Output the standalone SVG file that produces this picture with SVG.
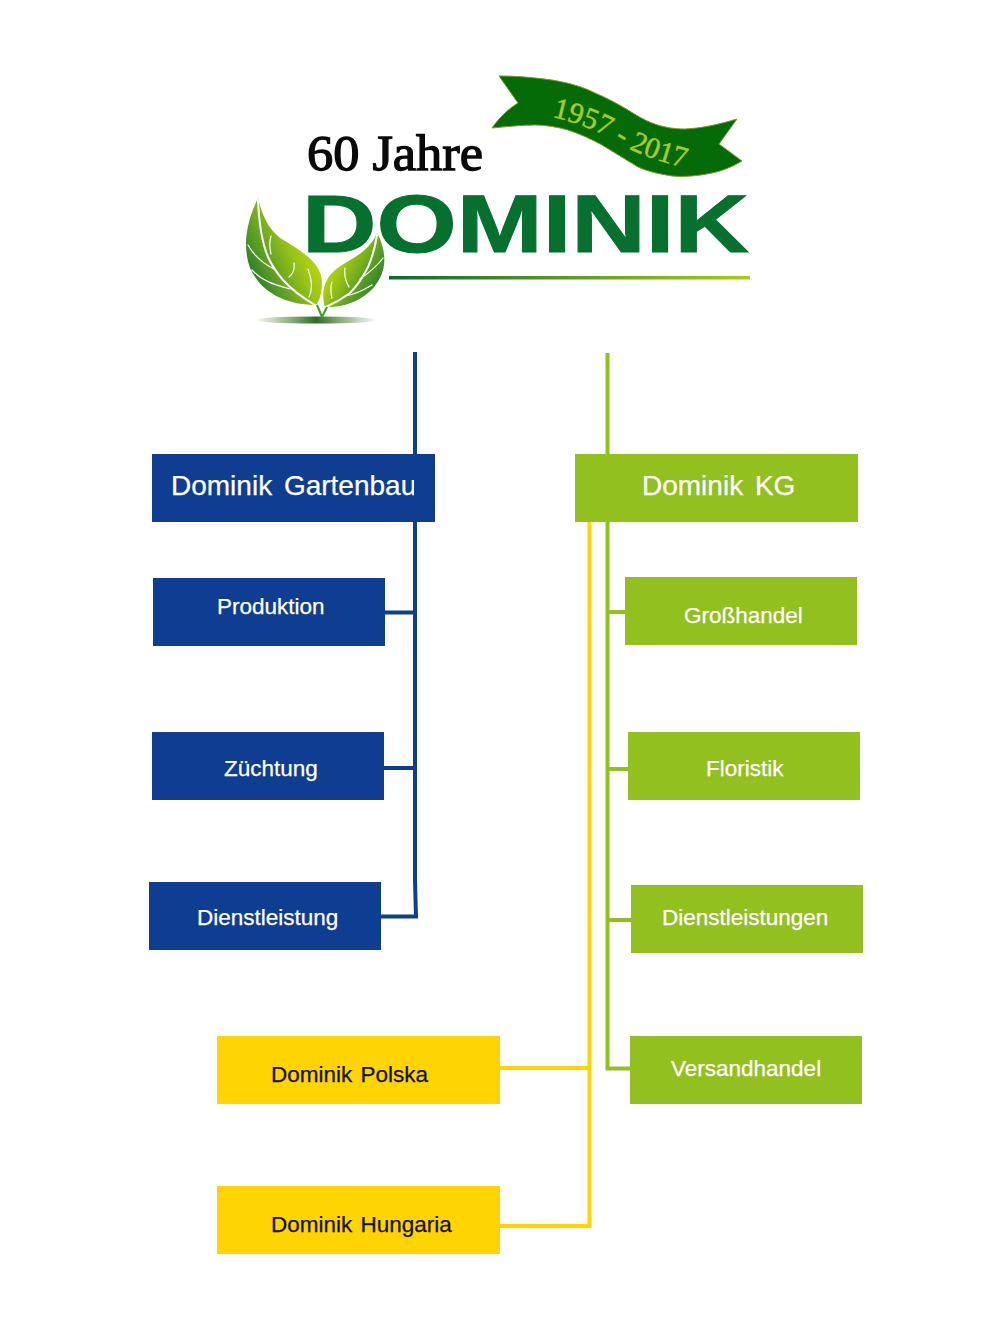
<svg xmlns="http://www.w3.org/2000/svg" width="1000" height="1333" viewBox="0 0 1000 1333">
<style>
.b{fill:#0f3d91}.g{fill:#92c01f}.y{fill:#ffd400}
.t{font-family:"Liberation Sans",Arial,sans-serif;font-size:22.500px;fill:#fff;stroke:#fff;stroke-width:.25;word-spacing:2px}
.h{font-size:28px;word-spacing:4px}
.d{fill:#111;stroke:#111}
.c{fill:none;stroke-width:4}
.v{fill:none;stroke:#fff;stroke-linecap:round}
</style>
<defs>
<linearGradient id="rule"><stop offset="0" stop-color="#0b6b2e"/><stop offset="1" stop-color="#a9cf0a"/></linearGradient>
<linearGradient id="leafL" gradientUnits="userSpaceOnUse" x1="256" y1="292" x2="318" y2="262"><stop offset="0" stop-color="#1f7a2c"/><stop offset="0.35" stop-color="#5fa024"/><stop offset="0.75" stop-color="#9cc617"/><stop offset="1" stop-color="#b8d60c"/></linearGradient>
<linearGradient id="leafR" gradientUnits="userSpaceOnUse" x1="380" y1="295" x2="328" y2="265"><stop offset="0" stop-color="#1f7a2c"/><stop offset="0.4" stop-color="#5fa024"/><stop offset="0.8" stop-color="#a4cb12"/><stop offset="1" stop-color="#b8d60c"/></linearGradient>
<linearGradient id="gnd"><stop offset="0" stop-color="#5a8a3a" stop-opacity="0"/><stop offset="0.5" stop-color="#2f6a24"/><stop offset="1" stop-color="#5a8a3a" stop-opacity="0"/></linearGradient>
<clipPath id="gclip"><rect x="152" y="454" width="262" height="68"/></clipPath>
<path id="arc" d="M552 117C575 122 600 131 620 144C640 155 660 162 698 171"/>
</defs>
<g id="logo">
<path d="M499 76C520 76 536 78 552 80C570 83 583 87 595 93C607 98 618 104 628 110C636 115 644 120 652 123C662 127 673 129 685 129C704 128 720 124 737 119L719 144L742 161C732 167 722 171 712 173C698 176 685 177 672 176C660 174 649 172 638 167C626 160 614 152 602 145C591 139 580 134 568 130C557 127 546 125 535 125C520 125 505 127 492 128C499 118 508 109 518 103Z" fill="#056b06" stroke="#7a9a2a" stroke-width="1"/>
<text font-family="Liberation Serif,serif" font-size="29.500" fill="#a5cc2a" stroke="#a5cc2a" stroke-width=".5"><textPath href="#arc">1957 - 2017</textPath></text>
<text x="307" y="170" font-family="Liberation Serif,serif" font-size="50" fill="#0a0a0a" stroke="#0a0a0a" stroke-width="1.300" textLength="176" lengthAdjust="spacingAndGlyphs">60 Jahre</text>
<text x="302" y="252" font-family="Liberation Sans,sans-serif" font-weight="bold" font-size="82" fill="#06702f" stroke="#06702f" stroke-width="1" textLength="447" lengthAdjust="spacingAndGlyphs">DOMINIK</text>
<rect x="389" y="276" width="361" height="3.500" fill="url(#rule)"/>
<ellipse cx="316" cy="320" rx="63" ry="3.500" fill="url(#gnd)"/>
<path d="M258 198C262 215 268 228 280 238C300 250 322 262 322 283C322 292 320 300 316 305C290 305 262 295 250 268C243 248 245 225 258 198Z" fill="url(#leafL)"/>
<path d="M377 233C384 245 386 260 383 270C376 295 350 308 325 307C321 295 324 280 333 272C345 260 368 255 377 233Z" fill="url(#leafR)"/>
<path class="v" stroke-width="2" d="M258 200C259 222 262 243 268 257C272 266 277 273 283 280C292 290 303 298 315 305M377 235C375 248 372 258 368 267C363 277 357 286 350 293C342 299 335 303 326 307"/>
<path class="v" stroke-width="1.200" d="M248 245C253 254 262 263 274 269M252 270C262 281 275 285 290 289M383 258C378 265 370 272 360 279M372 285C362 291 352 295 345 296M271 236C269 243 270 250 271 254M294 263C295 270 293 274 289 277M308 269C312 280 313 289 309 297M332 282C330 288 331 294 332 298M345 268C344 275 346 282 349 287"/>
<path d="M317 305L322 317L327 307" fill="none" stroke="#3f9a2c" stroke-width="2"/>
</g>
<g id="connectors">
<path class="c" stroke="#0f3d91" d="M415 352V880L416 918"/>
<path class="c" stroke="#0f3d91" d="M385 612.500H415M384 768H415M381 916.500H418"/>
<path class="c" stroke="#92c01f" d="M607.500 353V1068.500H630M607.500 612H625M607.500 769H628M607.500 920H631"/>
<path class="c" stroke="#ffd400" d="M589.500 522V1226H500M500 1068H589.500"/>
</g>
<g id="gartenbau"><rect class="b" x="152" y="454" width="283" height="68"/><text class="t h" x="171" y="495" clip-path="url(#gclip)">Dominik Gartenbau</text></g>
<g id="produktion"><rect class="b" x="153" y="578" width="232" height="68"/><text class="t" x="217" y="614">Produktion</text></g>
<g id="zuechtung"><rect class="b" x="152" y="732" width="232" height="68"/><text class="t" x="224" y="776">Züchtung</text></g>
<g id="dienstleistung"><rect class="b" x="149" y="882" width="232" height="68"/><text class="t" x="197" y="925">Dienstleistung</text></g>
<g id="kg"><rect class="g" x="575" y="454" width="283" height="68"/><text class="t h" x="642" y="495">Dominik KG</text></g>
<g id="grosshandel"><rect class="g" x="625" y="577" width="232" height="68"/><text class="t" x="684" y="623">Großhandel</text></g>
<g id="floristik"><rect class="g" x="628" y="732" width="232" height="68"/><text class="t" x="706" y="776">Floristik</text></g>
<g id="dienstleistungen"><rect class="g" x="631" y="885" width="232" height="68"/><text class="t" x="662" y="925">Dienstleistungen</text></g>
<g id="versandhandel"><rect class="g" x="630" y="1036" width="232" height="68"/><text class="t" x="671" y="1076">Versandhandel</text></g>
<g id="polska"><rect class="y" x="217" y="1036" width="283" height="68"/><text class="t d" x="271" y="1082">Dominik Polska</text></g>
<g id="hungaria"><rect class="y" x="217" y="1186" width="283" height="68"/><text class="t d" x="271" y="1232">Dominik Hungaria</text></g>
</svg>
